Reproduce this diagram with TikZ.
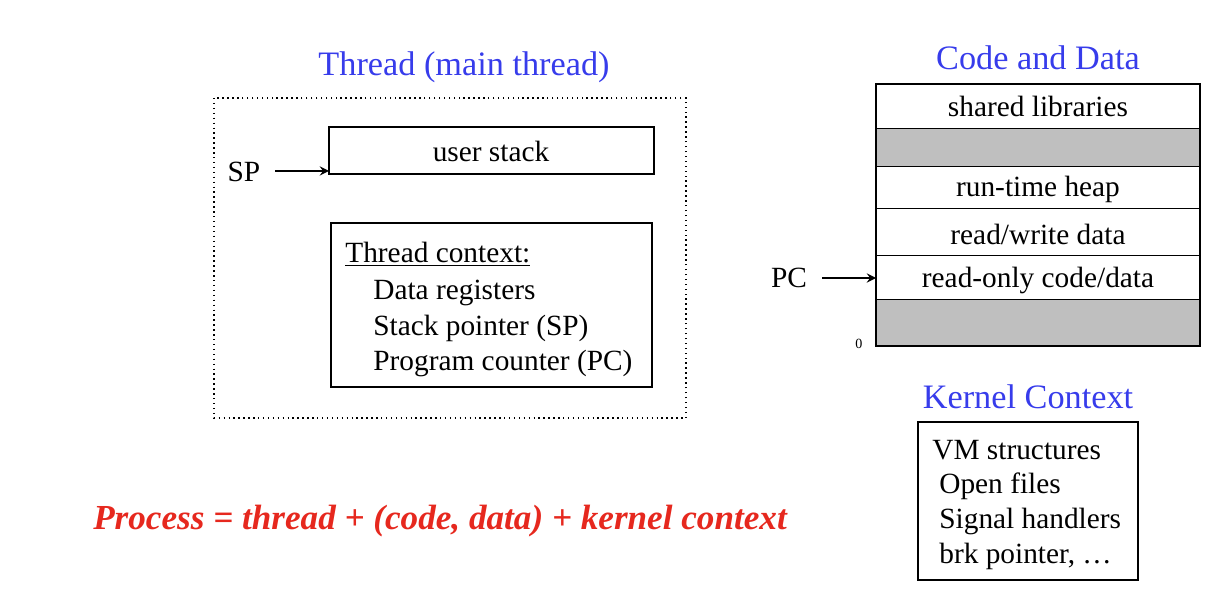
\documentclass[tikz,border=0pt]{standalone}
\usepackage{fontspec}
\setmainfont{Liberation Serif}
\usetikzlibrary{positioning}
\definecolor{titleblue}{RGB}{55,60,235}
\definecolor{procred}{RGB}{230,40,30}
\tikzset{
  title/.style={text=titleblue, font=\fontsize{19.5}{23}\selectfont},
  lbl/.style={font=\fontsize{16.7}{20}\selectfont},
  row/.style={draw, line width=0.4pt},
  ptr/.style={line width=1.3pt, -stealth}
}
\begin{document}
\begin{tikzpicture}[x=0.02cm, y=-0.02cm]
    \useasboundingbox (0,0) rectangle (1230,614);

    % thread
    \node[title] (thrtitle) at (464,67) {Thread (main thread)};
    \draw[thick, dotted] (214,98) rectangle (686,418);
    \draw[thick] (329,127) rectangle (654,174);
    \node[lbl] (ustack) at (491,151) {user stack};
    \coordinate (ustackin) at (329,171);
    \node[lbl] (sp) at (244,172) {SP};
    \coordinate (spout) at (275,171);
    \draw[ptr] (spout) -- (ustackin);

    % thread context
    \draw[thick] (331,223) rectangle (652,387);
    \node[lbl, anchor=west, inner sep=0pt] (ctx) at (345,254) {\underline{Thread context:}};
    \node[lbl, anchor=west, inner sep=0pt] (dreg) at (373,293) {Data registers};
    \node[lbl, anchor=west, inner sep=0pt] (spreg) at (373,328) {Stack pointer (SP)};
    \node[lbl, anchor=west, inner sep=0pt] (pcreg) at (373,363) {Program counter (PC)};

    % code and data
    \node[title] (cdtitle) at (1038,58) {Code and Data};
    \fill[gray!50] (876,128) rectangle (1200,166);
    \fill[gray!50] (876,299) rectangle (1200,346);
    \foreach \y in {128,166,208,255,299}
        \draw[row] (876,\y) -- (1200,\y);
    \draw[thick] (876,84) rectangle (1200,346);
    \node[lbl] (shlib) at (1038,106) {shared libraries};
    \node[lbl] (heap) at (1038,189) {run-time heap};
    \node[lbl] (rwdata) at (1038,234) {read/write data};
    \node[lbl] (rocode) at (1038,280) {read-only code/data};
    \coordinate (rocodein) at (876,278);
    \node[lbl] (pc) at (789,278) {PC};
    \coordinate (pcout) at (822,278);
    \draw[ptr] (pcout) -- (rocodein);
    \node[font=\footnotesize] (zero) at (859,344) {0};

    % kernel context
    \node[title] (kctitle) at (1028,397) {Kernel Context};
    \draw[thick] (918,422) rectangle (1138,580);
    \node[lbl, anchor=west, inner sep=0pt] (vm) at (932,450) {VM structures};
    \node[lbl, anchor=west, inner sep=0pt] (files) at (939,486) {Open files};
    \node[lbl, anchor=west, inner sep=0pt] (sig) at (939,521) {Signal handlers};
    \node[lbl, anchor=west, inner sep=0pt] (brk) at (939,556) {brk pointer, \dots};

    % the relationship
    \node[text=procred, font=\fontsize{20}{24}\selectfont\bfseries\itshape] (proc) at (440,521)
        {Process = thread + (code, data) + kernel context};
\end{tikzpicture}
\end{document}
